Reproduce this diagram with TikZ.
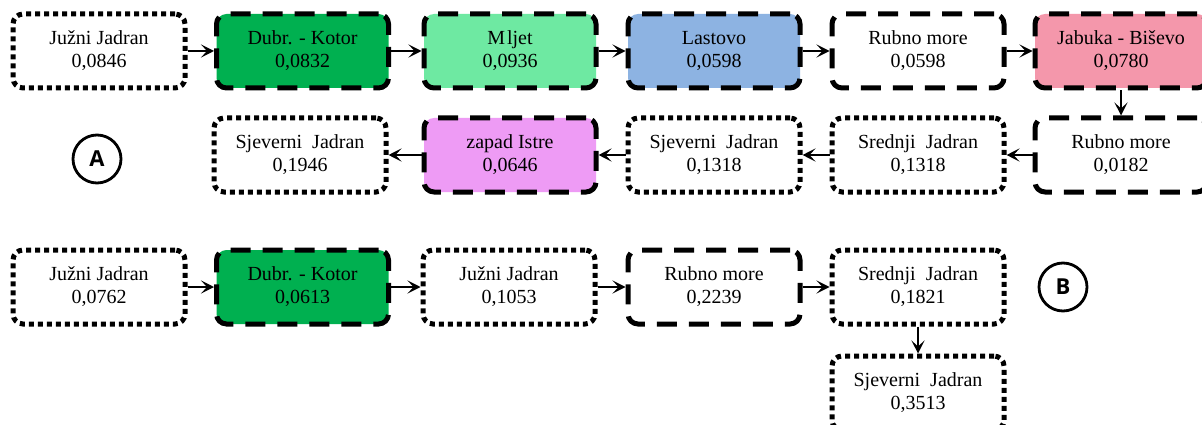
\documentclass[tikz,border=0pt]{standalone}
\usepackage{fontspec}
\setmainfont{Liberation Serif}
\newfontfamily\labelfont{Open Sans}
\usetikzlibrary{arrows.meta}
\definecolor{dkgreen}{HTML}{00B050}
\definecolor{ltgreen}{HTML}{6EE9A2}
\definecolor{ltblue}{HTML}{8DB3E2}
\definecolor{ltpink}{HTML}{F497AB}
\definecolor{ltviolet}{HTML}{EE9BF5}
\tikzset{
  region/.style={rounded corners=10pt, minimum width=172pt, minimum height=74pt,
    inner sep=0pt, align=center, line width=5pt,
    font=\fontsize{20}{23}\selectfont},
  dashbox/.style={region, draw, dash pattern=on 20pt off 12pt},
  dotbox/.style={region, draw, dash pattern=on 5pt off 4pt},
  link/.style={line width=2.5pt, -{Stealth[length=13pt,width=13pt,inset=6pt]}},
  tag/.style={circle, draw, line width=2.8pt, minimum size=48pt, inner sep=0pt,
    font=\labelfont\bfseries\fontsize{22}{24}\selectfont}
}
\begin{document}
\begin{tikzpicture}[x=1pt,y=-1pt]
\useasboundingbox (0,0) rectangle (1202,425);
\clip (0,0) rectangle (1202,425);
\fill[white] (0,0) rectangle (1202,425);

% route A, first row (left to right)
\node[dotbox] (a1) at (99,51) {Južni Jadran\\0,0846};
\node[dashbox, fill=dkgreen] (a2) at (302.5,51) {Dubr. - Kotor\\0,0832};
\node[dashbox, fill=ltgreen] (a3) at (510,51) {M\kern2pt ljet\\0,0936};
\node[dashbox, fill=ltblue] (a4) at (714,51) {Lastovo\\0,0598};
\node[dashbox] (a5) at (918,51) {Rubno more\\0,0598};
\node[dashbox, fill=ltpink] (a6) at (1121,51) {Jabuka - Biševo\\0,0780};

% route A, second row (right to left)
\node[dashbox] (a7) at (1121,155) {Rubno more\\0,0182};
\node[dotbox] (a8) at (918,155) {Srednji \ Jadran\\0,1318};
\node[dotbox] (a9) at (714,155) {Sjeverni \ Jadran\\0,1318};
\node[dashbox, fill=ltviolet] (a10) at (510,155) {zapad Istre\\0,0646};
\node[dotbox] (a11) at (300,155) {Sjeverni \ Jadran\\0,1946};

\draw[link] (a1) -- (a2);
\draw[link] (a2) -- (a3);
\draw[link] (a3) -- (a4);
\draw[link] (a4) -- (a5);
\draw[link] (a5) -- (a6);
\draw[link] (a6) -- (a7);
\draw[link] (a7) -- (a8);
\draw[link] (a8) -- (a9);
\draw[link] (a9) -- (a10);
\draw[link] (a10) -- (a11);

\node[tag] (ta) at (97,159) {A};

% route B
\node[dotbox] (b1) at (99,287) {Južni Jadran\\0,0762};
\node[dashbox, fill=dkgreen] (b2) at (302.5,287) {Dubr. - Kotor\\0,0613};
\node[dotbox] (b3) at (509,287) {Južni Jadran\\0,1053};
\node[dashbox] (b4) at (714,287) {Rubno more\\0,2239};
\node[dotbox] (b5) at (918,287) {Srednji \ Jadran\\0,1821};
\node[dotbox] (b6) at (918,393) {Sjeverni \ Jadran\\0,3513};

\draw[link] (b1) -- (b2);
\draw[link] (b2) -- (b3);
\draw[link] (b3) -- (b4);
\draw[link] (b4) -- (b5);
\draw[link] (b5) -- (b6);

\node[tag] (tb) at (1063,287) {B};
\end{tikzpicture}
\end{document}
